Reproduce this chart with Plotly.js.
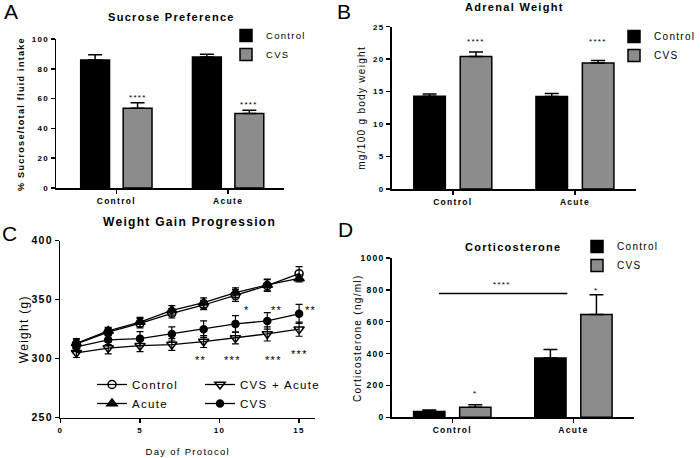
<!DOCTYPE html>
<html>
<head>
<meta charset="utf-8">
<script src="https://cdn.plot.ly/plotly-3.0.1.min.js"></script>
<style>
  html, body { margin: 0; padding: 0; background: #fff; }
  #chart { width: 700px; height: 458px; }
  svg text { letter-spacing: 1.3px; }
  .legendbar { transform: scale(1.5, 0.72); vector-effect: non-scaling-stroke; }
</style>
</head>
<body>
<div id="chart"></div>
<script>
// ---------- data ----------
const groups = ['Control', 'Acute'];
const seriesNames = ['Control', 'CVS'];

// A: Sucrose preference (%)
const sucControl = [86, 88];
const sucControlErr = [3.5, 1.8];
const sucCVS = [53.5, 50];
const sucCVSErr = [3.7, 2.2];
const sucStars = ['****', '****'];

// B: Adrenal weight (mg/100 g body weight)
const adrControl = [14.3, 14.25];
const adrControlErr = [0.35, 0.45];
const adrCVS = [20.4, 19.4];
const adrCVSErr = [0.7, 0.4];
const adrStars = ['****', '****'];
const adrStarLevel = 23;

// D: Corticosterone (ng/ml)
const corControl = [37, 372];
const corControlErr = [8, 53];
const corCVS = [63, 645];
const corCVSErr = [15, 125];
const corStars = ['*', '*'];
const corStarLevels = [160, 810];
const corBracketLabel = '****';
const corBracketLevel = 777;

// C: Weight gain progression (g)
const days = [1, 3, 5, 7, 9, 11, 13, 15];
const wControl = [312.5, 322.5, 330, 338.5, 345.5, 353.5, 362, 372];
const wControlErr = [4, 3, 4, 4, 4, 5, 5, 6];
const wAcute = [313, 323.5, 331, 341, 347.5, 356, 362.5, 368];
const wAcuteErr = [4, 3, 4, 4, 4, 4, 5, 3];
const wCVS = [310, 316, 317, 321, 325, 329.5, 332, 338];
const wCVSErr = [4, 4, 6, 6, 7, 7, 7, 8];
const wCVSAcute = [305, 309, 311, 312, 314.5, 317.5, 321, 325];
const wCVSAcuteErr = [4, 5, 5, 5, 5, 5, 6, 6];
// significance marks in C: [day, weight, text]
const cStarsUpper = [[11.7, 343, '*'], [13.6, 343, '**'], [15.7, 343, '**']];
const cStarsLower = [[8.8, 301, '**'], [10.8, 301, '***'], [13.4, 301, '***'], [15.0, 305.5, '***']];

// ---------- styling helpers ----------
const FONT = 'Liberation Sans, Arial, sans-serif';
const GRAY = '#8c8c8c';
const zeros = n => new Array(n).fill(0);

function barTrace(name, y, err, color, xa, ya, legend) {
  return {
    type: 'bar', name: name, x: groups, y: y,
    xaxis: xa, yaxis: ya, legend: legend,
    marker: { color: color, line: { color: 'black', width: 1.5 } },
    error_y: { type: 'data', symmetric: false, array: err, arrayminus: zeros(err.length),
               color: 'black', thickness: 1.5, width: 7 },
    hoverinfo: 'skip'
  };
}
function lineTrace(name, y, err, symbol, size, legend) {
  return {
    type: 'scatter', mode: 'lines+markers', name: name, x: days, y: y,
    xaxis: 'x3', yaxis: 'y3', legend: legend,
    line: { color: 'black', width: 1.3 },
    marker: { symbol: symbol, size: size, color: 'black', line: { color: 'black', width: 1.5 } },
    error_y: { type: 'data', array: err, color: 'black', thickness: 1.2, width: 3.5 },
    hoverinfo: 'skip'
  };
}

const traces = [
  barTrace(seriesNames[0], sucControl, sucControlErr, 'black', 'x', 'y', 'legend'),
  barTrace(seriesNames[1], sucCVS, sucCVSErr, GRAY, 'x', 'y', 'legend'),
  barTrace(seriesNames[0], adrControl, adrControlErr, 'black', 'x2', 'y2', 'legend2'),
  barTrace(seriesNames[1], adrCVS, adrCVSErr, GRAY, 'x2', 'y2', 'legend2'),
  barTrace(seriesNames[0], corControl, corControlErr, 'black', 'x4', 'y4', 'legend4'),
  barTrace(seriesNames[1], corCVS, corCVSErr, GRAY, 'x4', 'y4', 'legend4'),
  lineTrace('Control', wControl, wControlErr, 'circle-open', 8, 'legend3'),
  lineTrace('Acute', wAcute, wAcuteErr, 'triangle-up', 9, 'legend3'),
  lineTrace('CVS + Acute', wCVSAcute, wCVSAcuteErr, 'triangle-down-open', 9, 'legend5'),
  lineTrace('CVS', wCVS, wCVSErr, 'circle', 7, 'legend5')
];

// ---------- axes ----------
function catX(domain, anchor, range, fs) {
  return {
    domain: domain, anchor: anchor, type: 'category', range: range,
    showline: true, linecolor: 'black', linewidth: 1.5,
    ticks: 'outside', ticklen: 4, tickwidth: 1.5, tickcolor: 'black',
    tickfont: { family: FONT, size: fs, weight: 'bold', color: 'black' },
    showgrid: false, zeroline: false, fixedrange: true
  };
}
function numY(domain, anchor, range, dtick, fs, title) {
  const ax = {
    domain: domain, anchor: anchor, range: range, dtick: dtick,
    showline: true, linecolor: 'black', linewidth: 1.5,
    ticks: 'outside', ticklen: 4, tickwidth: 1.5, tickcolor: 'black',
    tickfont: { family: FONT, size: fs, weight: 'bold', color: 'black' },
    showgrid: false, zeroline: false, fixedrange: true
  };
  if (title) ax.title = title;
  return ax;
}

const BAR_OFFSET = 0.19; // half-distance of grouped bar centres (category units)

const annotations = [];
function addAnn(o) { annotations.push(Object.assign({ showarrow: false, font: { family: FONT, size: 9, color: 'black' } }, o)); }

// panel letters
[['A', 2, 11], ['B', 335, 11], ['C', 0, 233], ['D', 336, 230]].forEach(p => {
  addAnn({ text: p[0], xref: 'paper', yref: 'paper', x: p[1] / 700, y: 1 - p[2] / 458,
           xanchor: 'left', yanchor: 'middle', font: { family: FONT, size: 21, color: 'black' } });
});
// panel titles
[['Sucrose Preference', 171, 17, 11], ['Adrenal Weight', 514, 7, 11],
 ['Weight Gain Progression', 189, 222, 12], ['Corticosterone', 513, 247, 11]].forEach(t => {
  addAnn({ text: t[0], xref: 'paper', yref: 'paper', x: t[1] / 700, y: 1 - t[2] / 458,
           xanchor: 'center', yanchor: 'middle',
           font: { family: FONT, size: t[3], weight: 'bold', color: 'black' } });
});
// y titles placed tight against the tick labels, as in the original
addAnn({ text: '% Sucrose/total fluid intake', xref: 'paper', yref: 'paper', x: 21 / 700, y: 1 - 114 / 458,
         xanchor: 'center', yanchor: 'middle', textangle: -90,
         font: { family: FONT, size: 9, weight: 'bold', color: 'black' } });
addAnn({ text: 'Corticosterone (ng/ml)', xref: 'paper', yref: 'paper', x: 357 / 700, y: 1 - 338 / 458,
         xanchor: 'center', yanchor: 'middle', textangle: -90,
         font: { family: FONT, size: 10, color: 'black' } });
// stars A
groups.forEach((g, i) => addAnn({ text: sucStars[i], xref: 'x', yref: 'y', x: i + BAR_OFFSET,
  y: sucCVS[i] + sucCVSErr[i], yanchor: 'bottom', yshift: -1, font: { family: FONT, size: 8, color: 'black' } }));
// stars B
groups.forEach((g, i) => addAnn({ text: adrStars[i], xref: 'x2', yref: 'y2', x: i + BAR_OFFSET,
  y: adrStarLevel, yanchor: 'middle', yshift: -2, font: { family: FONT, size: 8, color: 'black' } }));
// stars D
groups.forEach((g, i) => addAnn({ text: corStars[i], xref: 'x4', yref: 'y4', x: i + BAR_OFFSET,
  y: corStarLevels[i], yanchor: 'middle', yshift: -2, font: { family: FONT, size: 8, color: 'black' } }));
addAnn({ text: corBracketLabel, xref: 'x4', yref: 'y4', x: 0.41, y: corBracketLevel,
  yanchor: 'bottom', yshift: 3, font: { family: FONT, size: 8, color: 'black' } });
// stars C
cStarsUpper.concat(cStarsLower).forEach(s => addAnn({ text: s[2], xref: 'x3', yref: 'y3',
  x: s[0], y: s[1], xanchor: 'center', yanchor: 'middle', yshift: -2,
  font: { family: FONT, size: 11, color: 'black' } }));

const legendBase = {
  bgcolor: 'rgba(0,0,0,0)', borderwidth: 0, xanchor: 'left', yanchor: 'top',
  orientation: 'v', tracegroupgap: 0, itemclick: false, itemdoubleclick: false
};

const layout = {
  width: 700, height: 458,
  margin: { l: 0, r: 0, t: 0, b: 0, autoexpand: false },
  paper_bgcolor: 'white', plot_bgcolor: 'white',
  font: { family: FONT, color: 'black', size: 10 },
  barmode: 'group', bargap: 0.24, bargroupgap: 0.32,
  xaxis: catX([0.08, 0.4057], 'y', [-0.54, 1.5], 8.5),
  yaxis: numY([0.5895, 0.9148], 'x', [0, 100], 20, 8),
  xaxis2: catX([0.5596, 0.9086], 'y2', [-0.5, 1.5], 8.5),
  yaxis2: numY([0.5873, 0.9417], 'x2', [0, 25], 5, 8,
               { text: 'mg/100 g body weight', font: { family: FONT, size: 10, color: 'black' }, standoff: 5 }),
  xaxis3: {
    domain: [0.0864, 0.45], anchor: 'y3', range: [0, 16], dtick: 5,
    showline: true, linecolor: 'black', linewidth: 1.5,
    ticks: 'outside', ticklen: 4, tickwidth: 1.5, tickcolor: 'black',
    tickfont: { family: FONT, size: 8, weight: 'bold', color: 'black' },
    showgrid: false, zeroline: false, fixedrange: true,
    title: { text: 'Day of Protocol', font: { family: FONT, size: 9.5, color: 'black' }, standoff: 14 }
  },
  yaxis3: numY([0.088, 0.4745], 'x3', [250, 400], 50, 10.5,
               { text: 'Weight (g)', font: { family: FONT, size: 12, color: 'black' }, standoff: 0 }),
  xaxis4: catX([0.5596, 0.9057], 'y4', [-0.5, 1.5], 8.5),
  yaxis4: numY([0.0889, 0.4367], 'x4', [0, 1000], 200, 8.5),
  legend: Object.assign({}, legendBase, { x: 226 / 700, y: 1 - 21 / 458,
    font: { family: FONT, size: 9.5, color: 'black' } }),
  legend2: Object.assign({}, legendBase, { x: 614 / 700, y: 1 - 22 / 458,
    font: { family: FONT, size: 10, color: 'black' } }),
  legend4: Object.assign({}, legendBase, { x: 577 / 700, y: 1 - 232 / 458,
    font: { family: FONT, size: 10, color: 'black' } }),
  legend3: Object.assign({}, legendBase, { x: 92 / 700, y: 1 - 370 / 458,
    font: { family: FONT, size: 11.5, color: 'black' } }),
  legend5: Object.assign({}, legendBase, { x: 200 / 700, y: 1 - 370 / 458,
    font: { family: FONT, size: 11.5, color: 'black' } }),
  shapes: [{
    type: 'line', xref: 'x4', yref: 'y4', x0: -0.11, x1: 0.95,
    y0: corBracketLevel, y1: corBracketLevel, line: { color: 'black', width: 1.5 }
  }],
  annotations: annotations,
  showlegend: true
};

Plotly.newPlot('chart', traces, layout, { staticPlot: true, displayModeBar: false });
</script>
</body>
</html>
